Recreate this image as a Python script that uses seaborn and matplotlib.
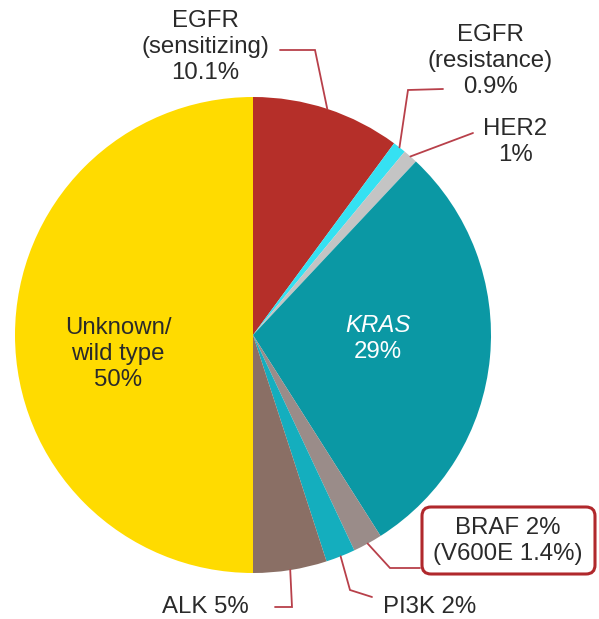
import numpy as np
import matplotlib.pyplot as plt
import seaborn as sns
from matplotlib.patches import FancyBboxPatch

# slices, clockwise from 12 o'clock
groups = ['EGFR sensitizing', 'EGFR resistance', 'HER2', 'KRAS', 'BRAF', 'PI3K', 'ALK', 'Unknown']
shares = [10.1, 0.9, 1, 29, 2, 2, 5, 50]
colors = ['#B52F29', '#35E1F2', '#C4C4C4', '#0B98A4', '#9A8C89', '#14AEBE', '#8A6F65', '#FFDB00']

sns.set_theme(style='white')
plt.rcParams['font.family'] = ['Liberation Sans', 'DejaVu Sans']

txt = '#2A2A2A'
line_col = '#B8404A'
fs = 17.3

fig = plt.figure(figsize=(5.99, 6.19), dpi=100)
ax = fig.add_axes([0, 0, 1, 1])

cx, cy, R = 253, 335, 238
wedges, _ = ax.pie(shares, colors=colors, startangle=-90, counterclock=True,
                   center=(cx, cy), radius=R, wedgeprops=dict(linewidth=0))
ax.set_xlim(0, 599)
ax.set_ylim(619, 0)
ax.set_aspect('equal')
ax.axis('off')


def edge(i):
    w = wedges[i]
    a = np.deg2rad((w.theta1 + w.theta2) / 2)
    return cx + R * np.cos(a), cy + R * np.sin(a)


def callout(i, pts):
    x0, y0 = edge(i)
    xs = [x0] + [p[0] for p in pts]
    ys = [y0] + [p[1] for p in pts]
    ax.plot(xs, ys, color=line_col, lw=1.3, solid_joinstyle='miter')


callout(0, [(315, 50), (280, 50)])
callout(1, [(408, 90), (443, 89)])
callout(2, [(473, 133)])
callout(4, [(390, 568), (420, 568)])
callout(5, [(350, 590), (372, 597)])
callout(6, [(292, 607), (275, 607)])

kw = dict(ha='center', va='center', fontsize=fs, color=txt, linespacing=1.25)
ax.text(205, 47, 'EGFR\n(sensitizing)\n10.1%', **kw)
ax.text(490, 61, 'EGFR\n(resistance)\n0.9%', **kw)
ax.text(515, 142, 'HER2\n1%', **kw)
ax.text(118, 354, 'Unknown/\nwild type\n50%', **kw)
ax.text(378, 325, 'KRAS', ha='center', va='center', fontsize=fs, color='white', style='italic')
ax.text(378, 352, '29%', ha='center', va='center', fontsize=fs, color='white')
ax.text(383, 607, 'PI3K 2%', ha='left', va='center', fontsize=fs, color=txt)
ax.text(249, 607, 'ALK 5%', ha='right', va='center', fontsize=fs, color=txt)

box = FancyBboxPatch((424, 509), 169, 63, boxstyle='round,pad=2,rounding_size=9',
                     facecolor='white', edgecolor='#B0282C', lw=2.2)
ax.add_patch(box)
ax.text(508, 541, 'BRAF 2%\n(V600E 1.4%)', **kw)

fig.savefig('out.png', dpi=100)
